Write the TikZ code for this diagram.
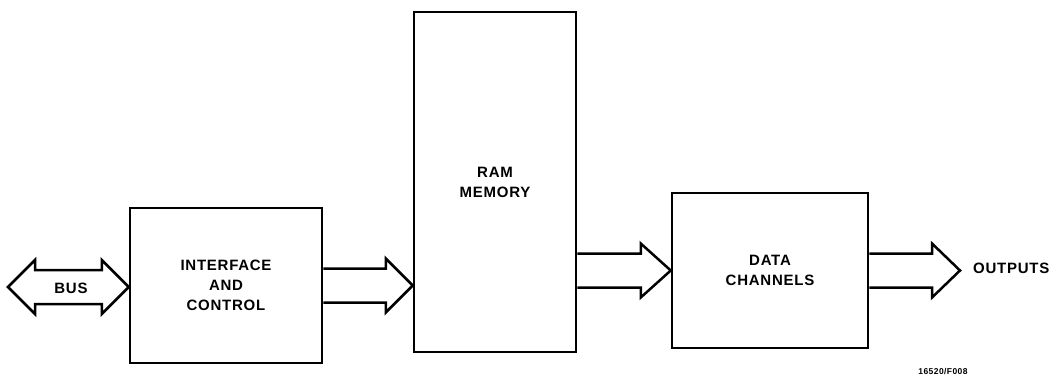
\documentclass[tikz,border=0pt]{standalone}
\usepackage{fontspec}
\setmainfont[LetterSpace=5]{Liberation Sans}
\usepackage{tikz}
\usetikzlibrary{calc}
\tikzstyle{block} = [draw, line width=2.5pt, inner sep=0pt, align=center, font=\fontsize{15}{20}\selectfont\bfseries]
\tikzstyle{lbl} = [inner sep=0pt, font=\fontsize{15}{20}\selectfont\bfseries]
\tikzstyle{fat} = [line width=2.5pt, line join=miter]

\begin{document}
\begin{tikzpicture}[x=1pt, y=-1pt]
	\useasboundingbox (0,0) rectangle (1051,382);
	\node[block, minimum width=192pt, minimum height=155pt] (iface) at (226,285.5) {INTERFACE\\AND\\CONTROL};
	\node[block, minimum width=162pt, minimum height=340pt] (ram) at (495,182) {RAM\\MEMORY};
	\node[block, minimum width=196pt, minimum height=155pt] (data) at (770,270.5) {DATA\\CHANNELS};
	\coordinate (bustip) at (8,287);
	\coordinate (outtip) at (960,268);
	\node[lbl] (bus) at (71,288) {BUS};
	\node[lbl, anchor=west] (outputs) at (973,268) {OUTPUTS};
	\node[lbl, font=\fontsize{8.5}{10}\selectfont\bfseries] (figno) at (943,372) {16520/F008};
	% bus, both ways
	\draw[fat] let \p1=(bustip), \p2=(iface.west) in
		(\x1+27,\y1+17) -- (\x2-27,\y1+17) -- (\x2-27,\y1+27) -- (\x2,\y1) -- (\x2-27,\y1-27) -- (\x2-27,\y1-17)
		-- (\x1+27,\y1-17) -- (\x1+27,\y1-27) -- (\x1,\y1) -- (\x1+27,\y1+27) -- cycle;
	% data paths
	\draw[fat] let \p1=(iface.east), \p2=(ram.west) in
		(\x1,\y1+17) -- (\x2-27,\y1+17) -- (\x2-27,\y1+27) -- (\x2,\y1) -- (\x2-27,\y1-27) -- (\x2-27,\y1-17) -- (\x1,\y1-17);
	\draw[fat] let \p1=(ram.east |- data.west), \p2=(data.west) in
		(\x1,\y1+17) -- (\x2-30,\y1+17) -- (\x2-30,\y1+27) -- (\x2,\y1) -- (\x2-30,\y1-27) -- (\x2-30,\y1-17) -- (\x1,\y1-17);
	\draw[fat] let \p1=(data.east), \p2=(outtip) in
		(\x1,\y1+17) -- (\x2-28,\y1+17) -- (\x2-28,\y1+27) -- (\x2,\y1) -- (\x2-28,\y1-27) -- (\x2-28,\y1-17) -- (\x1,\y1-17);
\end{tikzpicture}
\end{document}
